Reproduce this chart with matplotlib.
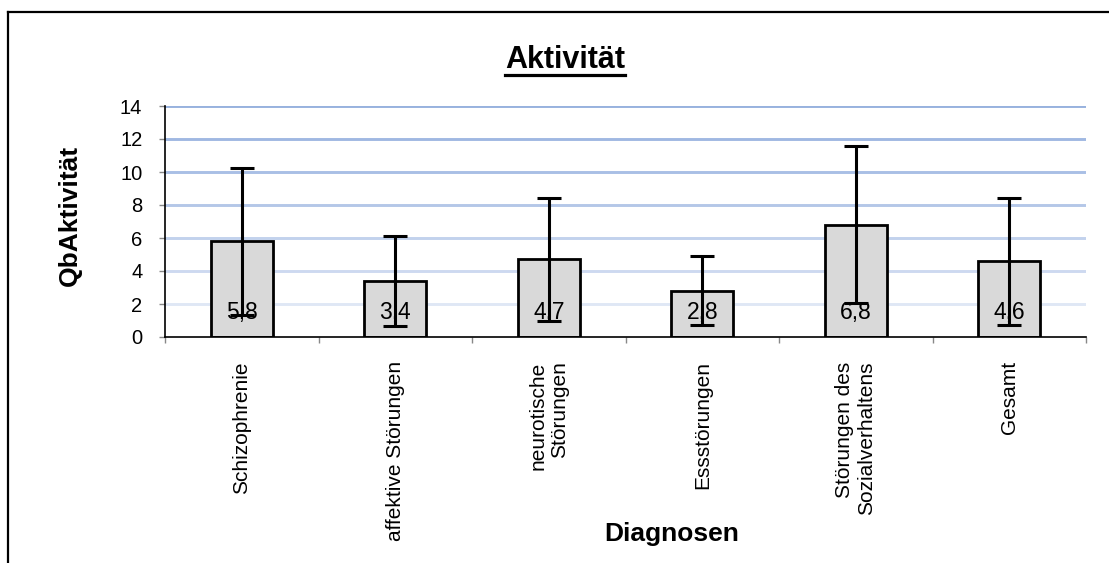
import matplotlib
matplotlib.use("Agg")
import matplotlib.pyplot as plt
from matplotlib.lines import Line2D
import numpy as np

# ---- data ----
categories = ["Schizophrenie", "affektive Störungen", "neurotische\nStörungen",
              "Essstörungen", "Störungen des\nSozialverhaltens", "Gesamt"]
means = [5.8, 3.4, 4.7, 2.8, 6.8, 4.6]
sds = [4.45, 2.75, 3.7, 2.1, 4.75, 3.85]
value_labels = ["5,8", "3,4", "4,7", "2,8", "6,8", "4,6"]
yticks = [0, 2, 4, 6, 8, 10, 12, 14]
grid_colors = ["#dfe7f5", "#cdd9f0", "#c2d2ed", "#b4c7e8", "#a9bfe5", "#a0b8e2", "#98b2de"]

title = "Aktivität"
xlabel = "Diagnosen"
ylabel = "QbAktivität"

plt.rcParams['font.family'] = ['Liberation Sans', 'DejaVu Sans']

W, H = 1109, 563
fig = plt.figure(figsize=(W / 100, H / 100), dpi=100)
ax = fig.add_axes([165 / W, 1 - 337 / H, (1086 - 165) / W, (337 - 106) / H])

x = np.arange(len(categories)) + 0.5

# gridlines with individual shades
for yv, c in zip(yticks[1:], grid_colors):
    ax.axhline(yv, color=c, lw=2.1, zorder=0)

ax.bar(x, means, width=0.405, color="#d9d9d9", edgecolor="black", linewidth=2.0, zorder=2)
ax.errorbar(x, means, yerr=sds, fmt="none", ecolor="black", elinewidth=2.2,
            capsize=8.6, capthick=2.2, zorder=3)

for xi, lab in zip(x, value_labels):
    ax.annotate(lab, (xi, 0), xytext=(0, 17.3), textcoords="offset points",
                ha="center", va="center", fontsize=16.5, zorder=4)

ax.set_xlim(0, len(categories))
ax.set_ylim(0, 14)
ax.set_yticks(yticks)
ax.set_yticklabels([str(v) for v in yticks], fontsize=14.5)
ax.tick_params(axis="y", direction="out", length=4.3, width=1, color="#888888", pad=12)

ax.set_xticks(x)
ax.set_xticklabels(categories, rotation=90, fontsize=15, va="top", ha="center",
                   multialignment="right")
ax.tick_params(axis="x", which="major", length=0, pad=17.5)
ax.set_xticks(np.arange(len(categories) + 1), minor=True)
ax.tick_params(axis="x", which="minor", direction="out", length=4.3, width=1, color="#888888")

for s in ["top", "right"]:
    ax.spines[s].set_visible(False)
ax.spines["left"].set_linewidth(1.2)
ax.spines["bottom"].set_linewidth(1.2)

# titles
t = fig.text(565 / W, 1 - 68 / H, title, ha="center", va="baseline",
             fontsize=22, fontweight="bold")
fig.text(672 / W, 1 - 541 / H, xlabel, ha="center", va="baseline",
         fontsize=19, fontweight="bold")
fig.text(70 / W, 1 - 215 / H, ylabel, ha="center", va="center", rotation=90,
         fontsize=19, fontweight="bold")

# underline title
fig.canvas.draw()
bb = t.get_window_extent()
uy = (H - 75) / H
fig.add_artist(Line2D([bb.x0 / W, bb.x1 / W], [uy, uy], color="black", lw=2.3,
                      transform=fig.transFigure))

# outer frame (top and left edges)
fig.add_artist(Line2D([8 / W, 1.0], [1 - 12 / H, 1 - 12 / H], color="black", lw=1.6,
                      transform=fig.transFigure))
fig.add_artist(Line2D([8 / W, 8 / W], [0, 1 - 12 / H], color="black", lw=1.6,
                      transform=fig.transFigure))

fig.savefig("out.png", dpi=100)
